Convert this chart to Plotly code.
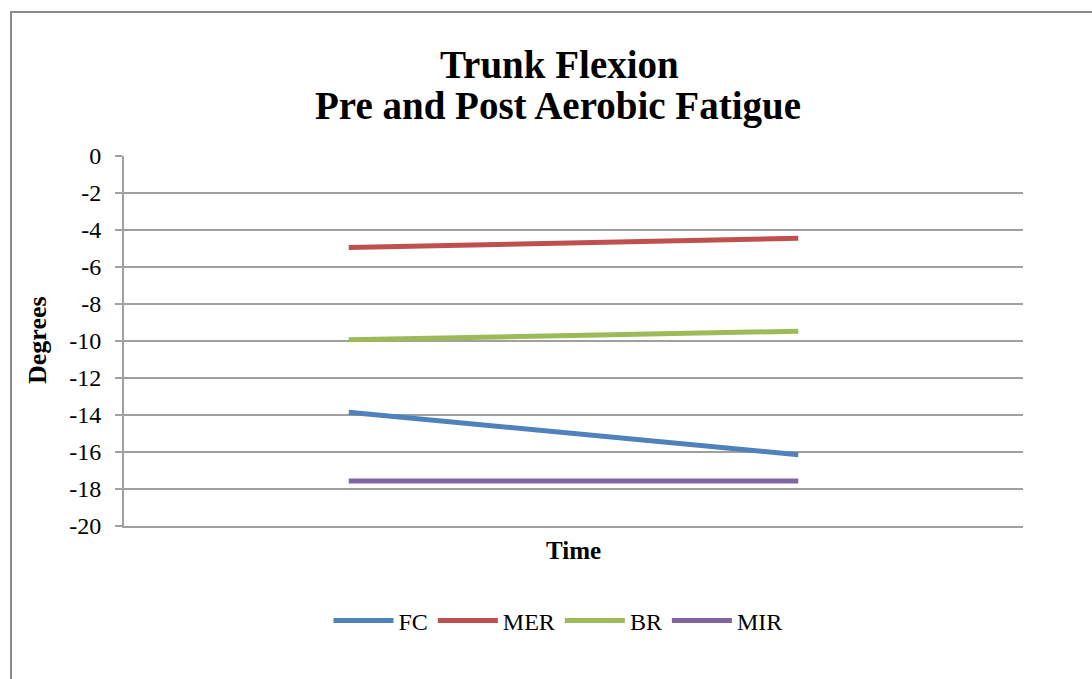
import plotly.graph_objects as go

categories = ["Pre", "Post"]
series_names = ["FC", "MER", "BR", "MIR"]
fc = [-13.85, -16.15]
mer = [-4.95, -4.45]
br = [-9.93, -9.47]
mir = [-17.57, -17.57]
colors = ["#4F81BD", "#C0504D", "#9BBB59", "#8064A2"]
y_ticks = list(range(0, -21, -2))

W, H = 1092, 679
L, R, T, B = 124, 69, 156, 153
FONT = "Liberation Serif"

fig = go.Figure()
for name, vals, col in zip(series_names, [fc, mer, br, mir], colors):
    fig.add_trace(go.Scatter(x=categories, y=vals, mode="lines", name=name,
                             line=dict(color=col, width=5)))

pw = W - L - R
ph = H - T - B
def px_x(p):
    return (p - L) / pw
def px_y(p):
    return (H - B - p) / ph

fig.update_layout(
    width=W, height=H,
    margin=dict(l=L, r=R, t=T, b=B),
    paper_bgcolor="white", plot_bgcolor="white",
    font=dict(family=FONT, color="black", size=24),
    showlegend=True,
    legend=dict(orientation="h", x=px_x(558), xanchor="center", y=px_y(621), yanchor="middle",
                font=dict(size=24, family=FONT), itemwidth=60, traceorder="normal"),
    xaxis=dict(type="category", range=[-0.5, 1.5], showticklabels=False, showgrid=False,
               showline=True, linecolor="#A0A0A0", linewidth=2, ticks="",
               zeroline=False),
    yaxis=dict(range=[-20, 0], tickvals=y_ticks, ticktext=[str(v) for v in y_ticks],
               showgrid=True, gridcolor="#A0A0A0", gridwidth=2,
               showline=True, linecolor="#A0A0A0", linewidth=2,
               ticks="outside", ticklen=7, tickcolor="#A0A0A0", tickwidth=2,
               ticklabelstandoff=9,
               tickfont=dict(size=24, family=FONT), zeroline=False),
    shapes=[dict(type="rect", xref="paper", yref="paper",
                 x0=px_x(11), x1=px_x(1120), y0=px_y(700), y1=px_y(12),
                 line=dict(color="#8C8C8C", width=2), fillcolor="rgba(0,0,0,0)", layer="below")],
    annotations=[
        dict(text="<b>Trunk Flexion</b>",
             xref="paper", yref="paper", x=px_x(559), y=px_y(64), xanchor="center", yanchor="middle",
             showarrow=False, font=dict(size=39, family=FONT)),
        dict(text="<b>Pre and Post Aerobic Fatigue</b>",
             xref="paper", yref="paper", x=px_x(558), y=px_y(106), xanchor="center", yanchor="middle",
             showarrow=False, font=dict(size=39, family=FONT)),
        dict(text="<b>Time</b>", xref="paper", yref="paper", x=px_x(573), y=px_y(550),
             xanchor="center", yanchor="middle", showarrow=False, font=dict(size=25, family=FONT)),
        dict(text="<b>Degrees</b>", xref="paper", yref="paper", x=px_x(37), y=px_y(340),
             xanchor="center", yanchor="middle", textangle=-90, showarrow=False,
             font=dict(size=26, family=FONT)),
    ],
)

fig.write_html("out.html")
